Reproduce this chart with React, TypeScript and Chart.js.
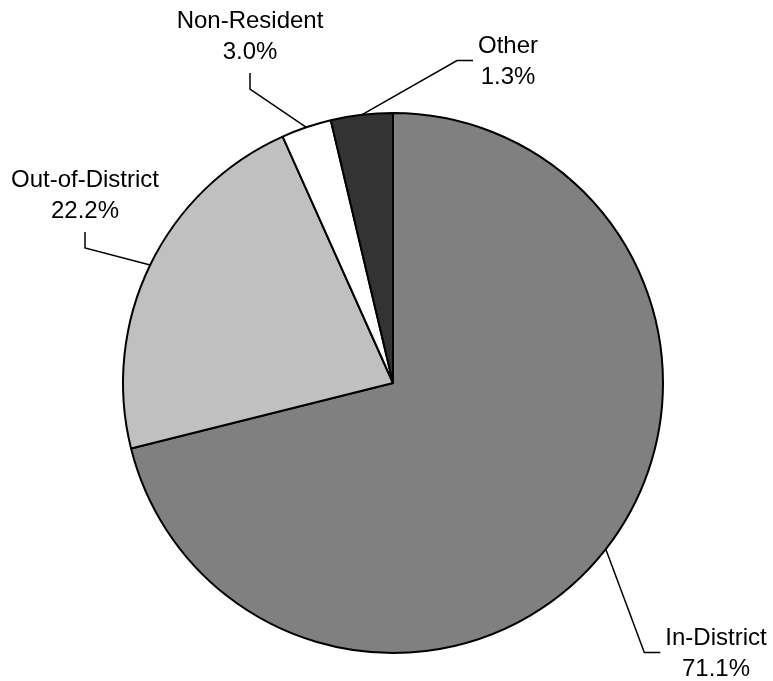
import React, { useEffect, useRef } from 'react';
import { Chart, registerables } from 'chart.js';

Chart.register(...registerables);

// ---- data ----
const categories = ['In-District', 'Out-of-District', 'Non-Resident', 'Other'];
const shares = [71.1, 22.2, 3.0, 3.7];
const percentLabels = ['71.1%', '22.2%', '3.0%', '1.3%'];

// ---- styles / layout ----
const sliceColors = ['#808080', '#C0C0C0', '#FFFFFF', '#333333'];
const FONT = '24px "Liberation Sans", Arial, sans-serif';
const LINE_H = 31;
// label block: center x, first baseline y, side where the leader attaches
const labelLayout = [
  { x: 716, y: 645, side: 'left' },
  { x: 85, y: 187, side: 'bottom' },
  { x: 250, y: 28, side: 'bottom' },
  { x: 508, y: 53, side: 'left' },
];

const leaderLabels = {
  id: 'leaderLabels',
  afterDatasetsDraw(chart: any) {
    const ctx = chart.ctx as CanvasRenderingContext2D;
    const meta = chart.getDatasetMeta(0);
    ctx.save();
    ctx.font = FONT;
    meta.data.forEach((arc: any, i: number) => {
      const p = arc.getProps(['x', 'y', 'startAngle', 'endAngle', 'outerRadius'], true);
      const mid = (p.startAngle + p.endAngle) / 2;
      const ex = p.x + Math.cos(mid) * p.outerRadius;
      const ey = p.y + Math.sin(mid) * p.outerRadius;
      const L = labelLayout[i];
      const lines = [categories[i], percentLabels[i]];
      const w = Math.max(...lines.map((t) => ctx.measureText(t).width));
      let ax: number, ay: number, bx: number, by: number;
      if (L.side === 'left') {
        ax = L.x - w / 2 - 5;
        ay = L.y + LINE_H / 2 - 8;
        bx = ax - 16;
        by = ay;
      } else {
        ax = L.x;
        ay = L.y + LINE_H + 14;
        bx = ax;
        by = ay + 16;
      }
      ctx.strokeStyle = '#000';
      ctx.lineWidth = 1.5;
      ctx.beginPath();
      ctx.moveTo(ex, ey);
      ctx.lineTo(bx, by);
      ctx.lineTo(ax, ay);
      ctx.stroke();

      ctx.fillStyle = '#000';
      ctx.textAlign = 'center';
      ctx.textBaseline = 'alphabetic';
      lines.forEach((t, k) => ctx.fillText(t, L.x, L.y + k * LINE_H));
    });
    ctx.restore();
  },
};

export default function App() {
  const ref = useRef<HTMLCanvasElement>(null);
  useEffect(() => {
    if (!ref.current) return;
    const chart = new Chart(ref.current, {
      type: 'pie',
      data: {
        labels: categories,
        datasets: [
          {
            data: shares,
            backgroundColor: sliceColors,
            borderColor: '#000',
            borderWidth: 2,
          },
        ],
      },
      options: {
        responsive: false,
        animation: false,
        layout: { padding: { left: 122, right: 109, top: 112, bottom: 27 } },
        plugins: {
          legend: { display: false },
          tooltip: { enabled: false },
        },
      },
      plugins: [leaderLabels],
    });
    return () => chart.destroy();
  }, []);
  return (
    <div style={{ position: 'fixed', left: 0, top: 0, width: 773, height: 681, background: '#fff' }}>
      <canvas ref={ref} width={773} height={681} />
    </div>
  );
}
